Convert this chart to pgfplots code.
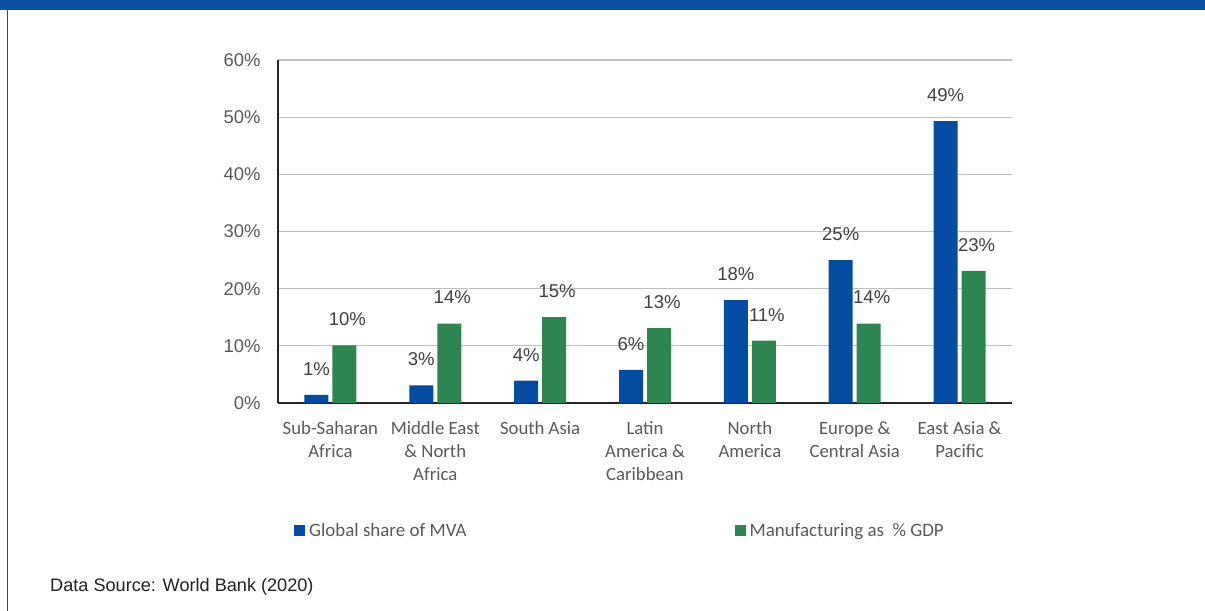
\documentclass[border=0pt]{standalone}
\usepackage{pgfplots}
\pgfplotsset{compat=1.18}
\usetikzlibrary{calc}
\usepackage{fontspec}
\setmainfont{Liberation Sans}
\newfontfamily\carlito{Carlito}
\definecolor{barblue}{HTML}{034CA1}
\definecolor{bargreen}{HTML}{2D8650}
\definecolor{bandblue}{HTML}{0C4EA2}
\definecolor{gridgray}{HTML}{BFBFBF}
\definecolor{ticktext}{HTML}{595959}
\definecolor{labeltext}{HTML}{404040}
\begin{document}
\begin{tikzpicture}[x=1bp,y=1bp]
\begin{axis}[
  name=ax,
  scale only axis, width=734bp, height=343bp,
  xmin=-0.5, xmax=6.5, ymin=0, ymax=60,
  ybar=4bp, bar width=24bp,
  axis x line*=bottom, axis y line*=left,
  axis line style={draw=black!85, line width=1.8bp},
  x axis line style={-}, y axis line style={-},
  ytick={0,10,...,60},
  yticklabel={\pgfmathprintnumber{\tick}\%},
  yticklabel style={font=\fontsize{18.5}{22}\selectfont, text=ticktext, xshift=-14bp},
  /pgf/number format/assume math mode=true,
  ymajorgrids, grid style={gridgray, line width=1.3bp},
  major tick length=0pt,
  xtick={0,...,6},
  xticklabels={Sub-Saharan\\Africa, Middle East\\\& North\\Africa, South Asia, Latin\\America \&\\Caribbean, North\\America, Europe \&\\Central Asia, East Asia \&\\Pacific},
  xticklabel style={align=center, font=\carlito\fontsize{18.8}{23}\selectfont, text=ticktext, yshift=-15bp},
  nodes near coords={\pgfmathprintnumber[fixed,precision=0]{\pgfplotspointmeta}\%},
  nodes near coords style={font=\fontsize{18.6}{22}\selectfont, text=labeltext, anchor=center, yshift=26bp},
  legend columns=2,
  legend style={at={(axis description cs:0.0218,-0.3717)}, anchor=west, draw=none, fill=none,
    inner sep=0pt, font=\carlito\fontsize{19}{23}\selectfont, text=ticktext,
    nodes={inner sep=0pt, anchor=west},
    /tikz/every odd column/.append style={column sep=4bp},
    /tikz/every even column/.append style={column sep=268bp}},
  legend image code/.code={\fill[#1,draw=none] (0bp,-5.5bp) rectangle (11bp,5.5bp);},
  clip=false,
]
\addplot[fill=barblue, draw=none] coordinates {(0,1.4) (1,3.1) (2,3.9) (3,5.8) (4,18.0) (5,25.0) (6,49.3)};
\addlegendentry{Global share of MVA}
\addplot[fill=bargreen, draw=none, nodes near coords style={xshift=3bp}] coordinates {(0,10.1) (1,13.9) (2,15.0) (3,13.1) (4,10.9) (5,13.9) (6,23.1)};
\addlegendentry{Manufacturing as\ \ \% GDP}
\coordinate (corner) at (rel axis cs:0,0);
\end{axis}
\begin{scope}[shift={($(corner)+(-278bp,-208bp)$)}]
\fill[bandblue] (0,601) rectangle (1205,611);
\draw[bandblue, line width=1.6bp] (7.5,0) -- (7.5,601);
\node[anchor=west, inner sep=0pt, font=\fontsize{18.2}{22}\selectfont, text=black!87] at (50,24.3) {Data Source: World Bank (2020)};
\pgfresetboundingbox
\path[use as bounding box] (0,0) rectangle (1205,611);
\end{scope}
\end{tikzpicture}
\end{document}
